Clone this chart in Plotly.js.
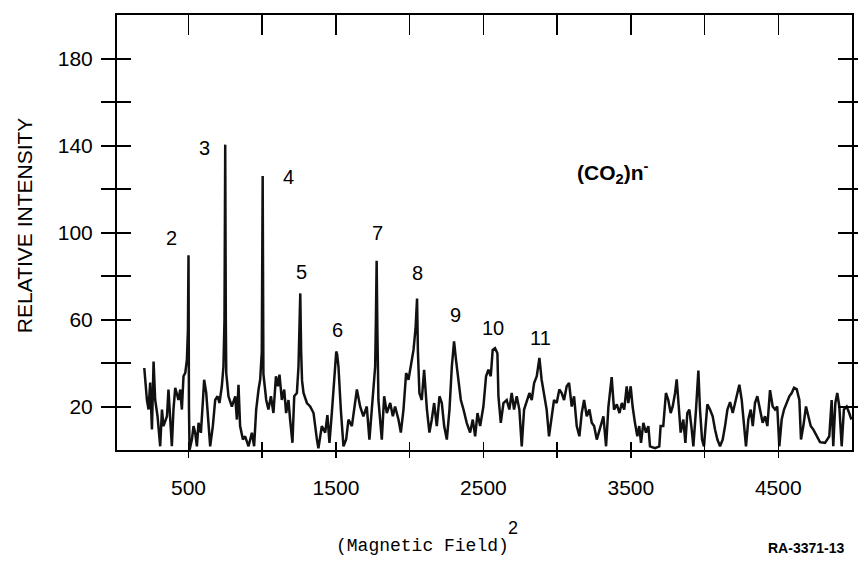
<!DOCTYPE html>
<html>
<head>
<meta charset="utf-8">
<script src="https://cdn.plot.ly/plotly-3.0.1.min.js"></script>
<style>html,body{margin:0;padding:0;background:#fff;}#chart{width:858px;height:580px;}</style>
</head>
<body>
<div id="chart"></div>
<script>
// (Magnetic Field)^2 values
var fieldSq = [
 200,218,229,240,252,263,274,290,308,320, 330,354,364,376,387,398,410,432,444,455,
 466,478,489,496,500,503,507,523,534,545, 557,568,584,598,606,620,636,647,665,681,
 697,710,726,737,744,749,753,756,771,794, 817,828,839,850,869,884,907,930,945,959,
 975,986,997,1003,1008,1027,1042,1059,1076,1093, 1106,1117,1133,1149,1162,1178,1189,1205,1217,1235,
 1246,1253,1258,1264,1270,1280,1303,1325,1348,1371, 1381,1404,1427,1442,1456,1472,1488,1502,1508,1517,
 1533,1551,1569,1585,1608,1623,1642,1664,1686,1709, 1727,1743,1766,1771,1776,1781,
 1788,1811,1827,1845,1868,1886,1901,1924,1940,1958, 1976,1992,2008,2026,2040,2050,2056,2066,2082,2098,
 2117,2134,2150,2166,2184,2202,2218,2234,2252,2270, 2286,2301,2315,2331,2347,2365,2387,2410,2428,2444,
 2460,2478,2500,2518,2534,2550,2563,2579,2595,2602, 2618,2636,2658,2676,2692,2708,2726,2744,2760,2776,
 2794,2812,2828,2844,2862,2880,2895,2911,2929,2945, 2963,2979,2997,3015,3031,3047,3065,3081,3099,3115,
 3133,3151,3167,3183,3201,3219,3235,3251,3269,3287,
 3314,3332,3348,3370,3386,3405,3423,3439,3455,3472, 3483,3499,3512,3528,3544,3557,3569,3585,3603,3619,
 3630,3664,3693,3702,3720,3738,3754,3770,3784,3800, 3811,3825,3838,3856,3870,3883,3897,3913,3924,3942,
 3958,3969,3983,3996,4010,4019,4037,4055,4071,4087, 4105,4123,4139,4155,4173,4191,4207,4223,4236,4252,
 4268,4281,4297,4313,4327,4342,4358,4376,4394,4410, 4426,4444,4462,4478,4493,4507,4523,4539,4557,4575,
 4591,4607,4625,4643,4654,4670,4688,4704,4720,4738, 4760,4783,4817,4846,4862,4873,4887,4900,4914,4930,
 4945,4964,4981,4996
];
// relative intensity
var intensity = [
 37.7,23,18.6,31,9.4,40.7,23,15.5,1.7,18.6, 11,15.5,27.8,11,1.7,18.6,28.6,23,27.8,18.6,
 33.9,35.5,41.5,55,89.5,20,0,4.8,11,8, 1.7,12.5,7.9,23,32.3,26.4,14,1.7,11,23,
 24.7,21.6,29.3,38.4,60,140.4,60,35.4,24.7,20, 24.7,14,30,11,4.8,6.3,1.7,7.9,1.7,18.6,
 27.8,32.3,45,126,35,23,18.6,24.7,17,33.9, 29.3,34.6,23,27.8,17,23,14,3.3,24.7,26.2,
 38.4,55,72,45,32,26.2,21.6,20,17,4.8, 0.8,11,8,16,3.3,17,32.3,45.3,44,38.4,
 18.6,1.7,4.8,14,11,18.6,27.8,20,15.5,20, 4.8,18.6,38.4,60,87,55,
 23,4.8,24.7,17,21.6,15.5,20,14,8,18.6, 35.4,32.3,38.4,46,56,69.6,45,26.2,23,36.9,
 18.6,8,14,21.6,11,24.7,21.6,11,4.8,18.6, 38.4,49.9,41,30.8,23,18.6,12.5,8,14,6.3,
 17,11,20,33.9,36.9,33.9,46,46.8,44.5,24.7, 12.5,21.6,23,18.6,26.2,18.6,24.7,18.6,1.7,18.6,
 23,26.2,23,30.8,33.9,42.3,32.3,26.2,18.6,6.3, 14,23,21.6,27.8,26.2,23,29.3,30.8,20,24.7,
 11,6.3,17,23,15.5,18.6,12.5,11,4.8,9.4,
 15.5,1.7,20,33.5,18.6,21,17,21.6,18.6,29.3, 21.6,29.3,20,12.5,6.3,11,3.3,12.5,8,11,
 1.7,0.8,1.7,11,11,26.2,23,17,20,26.2, 32.5,20,8,14,3.3,17,18.6,9.4,1.7,18.6,
 36.5,18.6,4.8,1.7,14,21,18.6,15.5,9.4,4.8, 1.7,4.8,11,18.6,22,17,21.6,26.2,30,23,
 11,1.7,14,18.6,11,21.6,24.7,18.6,12.5,15.5, 11,27.5,20,18.6,20,1.7,14,18.6,21.6,24.7,
 26.2,28.6,28,23,4.8,11,20,15.5,11,9.4, 6.3,3.6,3.3,6.3,23,1.7,21.6,26.2,20,1.7,
 18.6,20,17,14
];
// axis ticks
var xTickVals = [500,1000,1500,2000,2500,3000,3500,4000,4500];
var xTickText = ['500','','1500','','2500','','3500','','4500'];
var yTickVals = [20,40,60,80,100,120,140,160,180];
var yTickText = ['20','','60','','100','','140','','180'];
// peak labels (cluster size n) and their positions
var peakLabels = ['2','3','4','5','6','7','8','9','10','11'];
var peakLabelX = [383,608,1176,1264,1508,1779,2051,2308,2566,2884];
var peakLabelY = [97.5,138.8,125.5,81.9,55.3,99.8,81.4,62.2,56.2,51.6];

var FONT = 'Liberation Sans, Arial, Helvetica, sans-serif';
var annotations = [];
for (var i = 0; i < peakLabels.length; i++) {
  annotations.push({x: peakLabelX[i], y: peakLabelY[i], xref: 'x', yref: 'y', text: peakLabels[i],
    xanchor: 'center', yanchor: 'middle',
    showarrow: false, font: {family: FONT, size: 20, color: '#000'}});
}
annotations.push({x: 3379, y: 127.8, xref: 'x', yref: 'y', text: '<b>(CO<sub>2</sub>)n<sup>-</sup></b>',
  xanchor: 'center', yanchor: 'middle',
  showarrow: false, font: {family: FONT, size: 21, color: '#000'}});
annotations.push({x: -0.1265, y: 0.517, xref: 'paper', yref: 'paper', text: 'RELATIVE INTENSITY', textangle: -90,
  xanchor: 'center', yanchor: 'middle',
  showarrow: false, font: {family: FONT, size: 21, color: '#000'}});
annotations.push({x: 0.415, y: -0.2207, xref: 'paper', yref: 'paper', text: '(Magnetic Field)',
  xanchor: 'center', yanchor: 'middle',
  showarrow: false, font: {family: 'Liberation Mono, Courier New, monospace', size: 18, color: '#000'}});
annotations.push({x: 0.539, y: -0.179, xref: 'paper', yref: 'paper', text: '2',
  xanchor: 'center', yanchor: 'middle',
  showarrow: false, font: {family: FONT, size: 18, color: '#000'}});
annotations.push({x: 0.937, y: -0.2253, xref: 'paper', yref: 'paper', text: '<b>RA-3371-13</b>',
  xanchor: 'center', yanchor: 'middle',
  showarrow: false, font: {family: FONT, size: 14, color: '#000'}});

var trace = {x: fieldSq, y: intensity, type: 'scatter', mode: 'lines',
  line: {color: '#111', width: 2.5}, hoverinfo: 'skip', showlegend: false};
// empty traces that switch on the overlay tick axes
var t2 = {x: [], y: [], xaxis: 'x2', yaxis: 'y', type: 'scatter', showlegend: false};
var t3 = {x: [], y: [], xaxis: 'x3', yaxis: 'y', type: 'scatter', showlegend: false};

var xr = [15, 5000];
var layout = {
  width: 858, height: 580,
  margin: {l: 117, r: 6, t: 15, b: 130},
  paper_bgcolor: '#fff', plot_bgcolor: '#fff',
  showlegend: false,
  xaxis: {range: xr, showline: true, linecolor: '#000', linewidth: 2, mirror: true,
    ticks: 'outside', ticklen: 6, tickwidth: 1.5, tickcolor: '#000',
    tickmode: 'array', tickvals: xTickVals, ticktext: xTickText,
    tickfont: {family: FONT, size: 21, color: '#000'}, ticklabelstandoff: 12,
    showgrid: false, zeroline: false},
  xaxis2: {range: xr, overlaying: 'x', side: 'top', showline: false,
    ticks: 'inside', ticklen: 20, tickwidth: 1.5, tickcolor: '#000',
    tickmode: 'array', tickvals: xTickVals, showticklabels: false, showgrid: false, zeroline: false},
  xaxis3: {range: xr, overlaying: 'x', side: 'bottom', showline: false,
    ticks: 'inside', ticklen: 8, tickwidth: 1.5, tickcolor: '#000',
    tickmode: 'array', tickvals: xTickVals, showticklabels: false, showgrid: false, zeroline: false},
  yaxis: {range: [0, 200], showline: true, linecolor: '#000', linewidth: 2, mirror: 'allticks',
    ticks: 'inside', ticklen: 14, tickwidth: 2, tickcolor: '#000',
    tickmode: 'array', tickvals: yTickVals, ticktext: yTickText,
    tickfont: {family: FONT, size: 21, color: '#000'}, ticklabelstandoff: 18,
    showgrid: false, zeroline: false},
  annotations: annotations
};
Plotly.newPlot('chart', [trace, t2, t3], layout, {displayModeBar: false, staticPlot: true});
</script>
</body>
</html>
